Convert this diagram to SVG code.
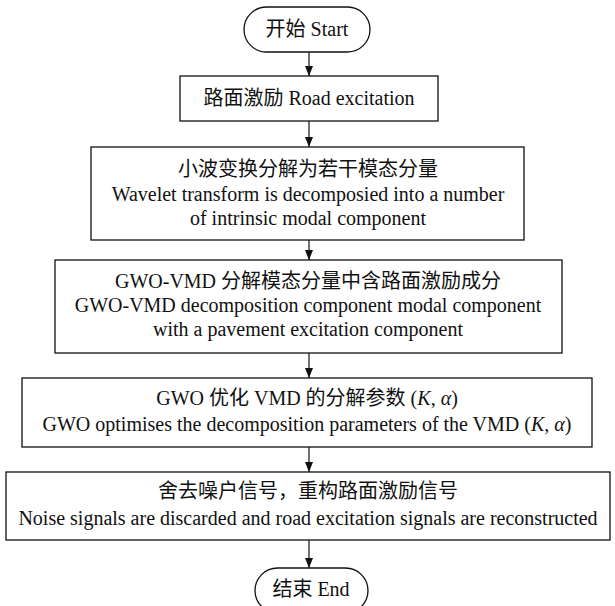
<svg xmlns="http://www.w3.org/2000/svg" width="615" height="606" viewBox="0 0 615 606">
<defs>
<style>
.b{fill:#fff;stroke:#111;stroke-width:1.3}
.t{font-family:"Liberation Serif","Noto Sans CJK SC",serif;font-size:20px;fill:#111;text-anchor:middle}
.c{stroke:#111;stroke-width:1.2;fill:none;marker-end:url(#ah)}
</style>
<marker id="ah" viewBox="0 0 10 10" refX="10" refY="5" markerWidth="10" markerHeight="14" markerUnits="userSpaceOnUse" orient="auto"><path d="M0,1 L10,5 L0,9 z" fill="#111"/></marker>
</defs>
<rect width="615" height="606" fill="#fff"/>
<g id="connectors">
<line class="c" x1="309" y1="52" x2="309" y2="76"/>
<line class="c" x1="309" y1="121" x2="309" y2="147"/>
<line class="c" x1="309" y1="240" x2="309" y2="260"/>
<line class="c" x1="309" y1="353" x2="309" y2="378"/>
<line class="c" x1="309" y1="447" x2="309" y2="472"/>
<line class="c" x1="309" y1="540" x2="309" y2="568"/>
</g>
<g id="start">
<rect class="b" x="244" y="7" width="126" height="45" rx="22.5"/>
<text class="t" x="307" y="36">开始 Start</text>
</g>
<g id="road">
<rect class="b" x="180" y="76" width="258" height="45"/>
<text class="t" x="309" y="105">路面激励 Road excitation</text>
</g>
<g id="wavelet">
<rect class="b" x="91" y="147" width="433" height="93"/>
<text class="t" x="308" y="176">小波变换分解为若干模态分量</text>
<text class="t" x="308" y="201">Wavelet transform is decomposied into a number</text>
<text class="t" x="308" y="225">of intrinsic modal component</text>
</g>
<g id="gwovmd">
<rect class="b" x="55" y="260" width="507" height="93"/>
<text class="t" x="308" y="288">GWO-VMD 分解模态分量中含路面激励成分</text>
<text class="t" x="308" y="312">GWO-VMD decomposition component modal component</text>
<text class="t" x="308" y="336">with a pavement excitation component</text>
</g>
<g id="optimise">
<rect class="b" x="22" y="378" width="570" height="69"/>
<text class="t" x="307" y="405">GWO 优化 VMD 的分解参数 (<tspan font-style="italic">K</tspan>, <tspan font-style="italic">α</tspan>)</text>
<text class="t" x="307" y="431">GWO optimises the decomposition parameters of the VMD (<tspan font-style="italic">K</tspan>, <tspan font-style="italic">α</tspan>)</text>
</g>
<g id="reconstruct">
<rect class="b" x="6" y="472" width="604" height="68"/>
<text class="t" x="308" y="498">舍去噪户信号，重构路面激励信号</text>
<text class="t" x="308" y="525">Noise signals are discarded and road excitation signals are reconstructed</text>
</g>
<g id="end">
<rect class="b" x="255" y="568" width="113" height="45" rx="22.5"/>
<text class="t" x="311" y="596">结束 End</text>
</g>
</svg>
